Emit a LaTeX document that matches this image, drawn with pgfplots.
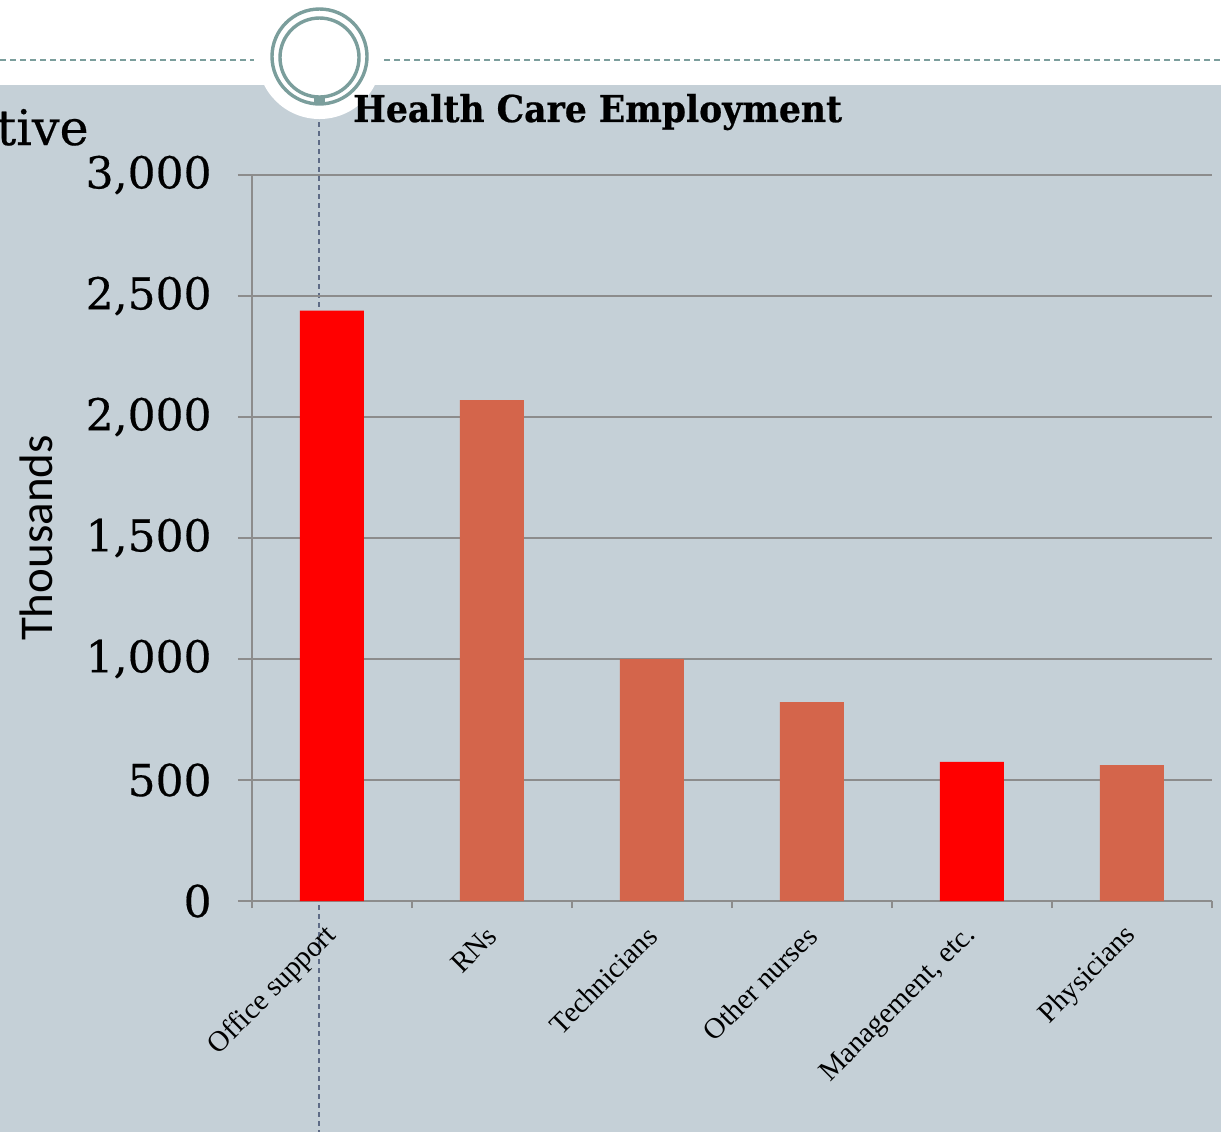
\documentclass[border=0pt]{standalone}
\usepackage{pgfplots}
\pgfplotsset{compat=1.18}
\usepackage{fontspec}
\setmainfont{Liberation Serif}
\newfontfamily\numfont{DejaVu Serif}[FakeBold=0.4]
\newfontfamily\titlefont{DejaVu Serif}[FakeStretch=0.935, BoldFeatures={FakeBold=0.6}]
\newfontfamily\labelfont{Carlito}

\definecolor{bgc}{HTML}{C5D0D7}
\definecolor{barred}{HTML}{FF0000}
\definecolor{barcoral}{HTML}{D4654B}
\definecolor{gridc}{HTML}{8C8C8C}
\definecolor{ringc}{HTML}{7B9E9C}
\definecolor{vline}{HTML}{5E6B86}

\begin{document}
\begin{tikzpicture}
% slide background, in pixel units (0.5pt each, y downwards)
\begin{scope}[x=0.5pt,y=-0.5pt]
  \path[use as bounding box] (0,0) rectangle (1221,1132);
  \fill[bgc] (0,0) rectangle (1221,1132);
  \fill[white] (0,0) rectangle (1221,85);
  \fill[white] (319.5,57) circle[radius=62];
  \draw[ringc, line width=0.9pt, dash pattern=on 3pt off 2pt] (0,60) -- (254,60);
  \draw[ringc, line width=0.9pt, dash pattern=on 3pt off 2pt] (384,60) -- (1221,60);
  \draw[ringc, line width=1.7pt] (319.5,56.5) circle[radius=47.5];
  \draw[ringc, line width=1.7pt] (319.5,57.5) circle[radius=39.5];
  \fill[ringc] (314,96) rectangle (325,105);
  \draw[vline, line width=0.6pt, dash pattern=on 2.5pt off 2pt] (319,122) -- (319,1132);
  \begin{scope}
    \clip (0,0) rectangle (1221,1132);
    \node[anchor=base east, inner sep=0pt, font=\numfont\fontsize{24.5}{26}\selectfont] at (89,145) {tive};
  \end{scope}
\end{scope}

\begin{axis}[
  at={(126pt,-450.5pt)}, anchor=south west, scale only axis,
  width=480pt, height=363pt,
  xmin=-0.5, xmax=5.5, ymin=0, ymax=3000,
  axis x line=bottom, axis y line=left,
  axis line style={-, gridc, line width=0.75pt},
  ytick={0,500,...,3000},
  ymajorgrids, grid style={gridc, line width=0.75pt},
  tick align=outside, major tick length=7pt, minor tick length=3.5pt,
  tick style={gridc, line width=0.75pt},
  xtick={0,...,5},
  minor xtick={-0.5,0.5,...,5.5},
  major x tick style={draw=none},
  xticklabels={Office support, RNs, Technicians, Other nurses, {Management, etc.}, Physicians},
  xticklabel style={rotate=45, anchor=east, inner sep=0pt, xshift=-5.6pt, yshift=-5.8pt,
    font=\fontsize{14.5}{16}\selectfont},
  /pgf/number format/assume math mode=true,
  /pgf/number format/1000 sep={,},
  yticklabel style={anchor=east, inner sep=0pt, xshift=-13pt,
    font=\numfont\fontsize{22}{24}\selectfont},
  ylabel={Thousands},
  ylabel style={at={(axis description cs:-0.225,0.5)}, anchor=center,
    font=\labelfont\fontsize{23.5}{26}\selectfont},
  title={Health Care Employment},
  title style={at={(axis description cs:0.105,1.0565)}, anchor=base west, inner sep=0pt,
    font=\titlefont\bfseries\fontsize{18.5}{20}\selectfont},
]
\addplot[ybar, bar width=32pt, bar shift=0pt, fill=barred, draw=none]
  coordinates {(0,2440) (4,575)};
\addplot[ybar, bar width=32pt, bar shift=0pt, fill=barcoral, draw=none]
  coordinates {(1,2070) (2,1000) (3,822) (5,562)};
\end{axis}
\end{tikzpicture}
\end{document}
